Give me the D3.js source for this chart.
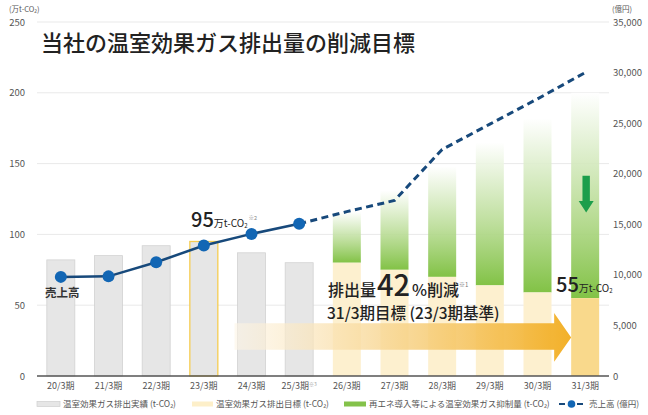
<!DOCTYPE html>
<html>
<head>
<meta charset="utf-8">
<script src="https://cdn.jsdelivr.net/npm/d3@7"></script>
<style>
  html, body { margin: 0; padding: 0; background: #fff; }
  svg { display: block; font-family: "Noto Sans CJK JP", "Noto Sans", sans-serif; }
</style>
</head>
<body>
<svg id="chart" width="648" height="415"></svg>
<script>
// data
const categories = ["20/3期", "21/3期", "22/3期", "23/3期", "24/3期", "25/3期",
                    "26/3期", "27/3期", "28/3期", "29/3期", "30/3期", "31/3期"];
const actual = [82, 85, 92, 95, 87, 80];              // 実績 (万t-CO2), 20/3〜25/3
const target = [80, 75, 70, 64, 59, 55];              // 目標 (万t-CO2), 26/3〜31/3
const withoutMeasures = [116, 131, 148, 165, 182, 200]; // 目標 + 抑制量の上端
const sales = [9800, 9850, 11250, 12900, 14050, 15050,
               16250, 17350, 22400, 24900, 27400, 30000]; // 売上高 (億円)
const leftTicks = [0, 50, 100, 150, 200, 250];
const rightTicks = [0, 5000, 10000, 15000, 20000, 25000, 30000, 35000];

const svg = d3.select("#chart");
const plot = { left: 37, right: 609, top: 22, bottom: 376 };
const barW = 28;

const x = d3.scalePoint().domain(categories).range([plot.left, plot.right]).padding(0.5);
const yL = d3.scaleLinear().domain([0, 250]).range([plot.bottom, plot.top]);
const yR = d3.scaleLinear().domain([0, 35000]).range([plot.bottom, plot.top]);

const defs = svg.append("defs");

// green gradient for the reduction part
const gg = defs.append("linearGradient")
    .attr("id", "green-grad")
    .attr("x1", 0).attr("y1", 1).attr("x2", 0).attr("y2", 0);
gg.append("stop").attr("offset", "0%").attr("stop-color", "#82c246").attr("stop-opacity", 1);
gg.append("stop").attr("offset", "45%").attr("stop-color", "#b9dc95").attr("stop-opacity", 0.9);
gg.append("stop").attr("offset", "100%").attr("stop-color", "#ffffff").attr("stop-opacity", 0.9);

// orange gradient for the big arrow
const og = defs.append("linearGradient")
    .attr("id", "arrow-grad")
    .attr("x1", 0).attr("y1", 0).attr("x2", 1).attr("y2", 0);
og.append("stop").attr("offset", "0%").attr("stop-color", "#fdf5e6").attr("stop-opacity", 0.6);
og.append("stop").attr("offset", "45%").attr("stop-color", "#f8d794").attr("stop-opacity", 0.85);
og.append("stop").attr("offset", "100%").attr("stop-color", "#f2ae22").attr("stop-opacity", 0.97);

// grid
svg.append("g")
    .selectAll("line")
    .data(leftTicks.filter(d => d > 0))
    .join("line")
    .attr("x1", plot.left).attr("x2", plot.right)
    .attr("y1", d => yL(d)).attr("y2", d => yL(d))
    .attr("stroke", "#e9e9e9")
    .attr("stroke-width", 1);

// left axis labels
svg.append("g")
    .selectAll("text")
    .data(leftTicks)
    .join("text")
    .attr("x", 25)
    .attr("y", d => yL(d) + 3.5)
    .attr("text-anchor", "end")
    .attr("font-size", 9.5)
    .attr("fill", "#555")
    .text(d => d);

// right axis labels
svg.append("g")
    .selectAll("text")
    .data(rightTicks)
    .join("text")
    .attr("x", 613)
    .attr("y", d => yR(d) + 3.5)
    .attr("font-size", 9.5)
    .attr("fill", "#555")
    .text(d => d3.format(",")(d));

// unit labels
svg.append("text").attr("x", 9).attr("y", 12).attr("font-size", 7.5).attr("fill", "#555")
    .text("(万t-CO₂)");
svg.append("text").attr("x", 612).attr("y", 12).attr("font-size", 7.5).attr("fill", "#555")
    .text("(億円)");

// actual bars
const actualCats = categories.slice(0, actual.length);
svg.append("g")
    .selectAll("rect")
    .data(actual)
    .join("rect")
    .attr("x", (d, i) => x(actualCats[i]) - barW / 2)
    .attr("y", d => yL(d))
    .attr("width", barW)
    .attr("height", d => yL(0) - yL(d))
    .attr("fill", "#e6e6e6")
    .attr("stroke", (d, i) => actualCats[i] === "23/3期" ? "#f6cd52" : "#d2d2d2")
    .attr("stroke-width", (d, i) => actualCats[i] === "23/3期" ? 1.3 : 0.8);

// target bars and green reduction parts
const targetCats = categories.slice(actual.length);
svg.append("g")
    .selectAll("rect")
    .data(withoutMeasures)
    .join("rect")
    .attr("x", (d, i) => x(targetCats[i]) - barW / 2)
    .attr("y", d => yL(d))
    .attr("width", barW)
    .attr("height", (d, i) => yL(target[i]) - yL(d))
    .attr("fill", "url(#green-grad)");

svg.append("g")
    .selectAll("rect")
    .data(target)
    .join("rect")
    .attr("x", (d, i) => x(targetCats[i]) - barW / 2)
    .attr("y", d => yL(d))
    .attr("width", barW)
    .attr("height", d => yL(0) - yL(d))
    .attr("fill", (d, i) => i === target.length - 1 ? "#f9d98c" : "#fdf0cf");

// big orange arrow
const ax0 = x("24/3期") - 17, ax1 = x("31/3期") - 14, ah = ax1 - 17;
const by0 = yL(37.2), by1 = yL(18.5), hy0 = yL(44.5), hy1 = yL(10);
svg.append("path")
    .attr("d", `M${ax0},${by0} L${ah},${by0} L${ah},${hy0} L${ax1},${(hy0 + hy1) / 2} L${ah},${hy1} L${ah},${by1} L${ax0},${by1} Z`)
    .attr("fill", "url(#arrow-grad)");

// baseline
svg.append("line")
    .attr("x1", plot.left).attr("x2", plot.right)
    .attr("y1", yL(0)).attr("y2", yL(0))
    .attr("stroke", "#555").attr("stroke-width", 1.5);

// x labels
const xl = svg.append("g")
    .selectAll("text")
    .data(categories)
    .join("text")
    .attr("x", d => x(d))
    .attr("y", 389)
    .attr("text-anchor", "middle")
    .attr("font-size", 9)
    .attr("fill", "#555")
    .text(d => d);
xl.filter(d => d === "25/3期")
    .append("tspan")
    .attr("font-size", 5)
    .attr("dy", -3.5)
    .attr("fill", "#999")
    .text("※3");

// sales line
const line = d3.line().x((d, i) => x(categories[i])).y(d => yR(d));
const solidCount = actual.length;
const salesSolid = sales.slice(0, solidCount);
const salesDash = sales.slice(solidCount - 1);

svg.append("path")
    .attr("d", d3.line().x((d, i) => x(categories[i + solidCount - 1])).y(d => yR(d))(salesDash))
    .attr("fill", "none")
    .attr("stroke", "#17497b")
    .attr("stroke-width", 3)
    .attr("stroke-dasharray", "7,4.5");

svg.append("path")
    .attr("d", line(salesSolid))
    .attr("fill", "none")
    .attr("stroke", "#17497b")
    .attr("stroke-width", 2.5);

svg.append("g")
    .selectAll("circle")
    .data(salesSolid)
    .join("circle")
    .attr("cx", (d, i) => x(categories[i]))
    .attr("cy", d => yR(d))
    .attr("r", 6)
    .attr("fill", "#1266b4");

// green down arrow in 31/3
const gx = x("31/3期") + 1;
svg.append("path")
    .attr("d", `M${gx - 3.7},${yL(141.5)} L${gx + 3.7},${yL(141.5)} L${gx + 3.7},${yL(123.5)} L${gx + 7.5},${yL(123.5)} L${gx},${yL(115.5)} L${gx - 7.5},${yL(123.5)} L${gx - 3.7},${yL(123.5)} Z`)
    .attr("fill", "#1c9e4b");

// title
svg.append("text")
    .attr("x", 41).attr("y", 51)
    .attr("font-size", 22)
    .attr("font-weight", 500)
    .attr("fill", "#222")
    .text("当社の温室効果ガス排出量の削減目標");

// 売上高 label
svg.append("text")
    .attr("x", 45).attr("y", 297)
    .attr("font-size", 11.5)
    .attr("font-weight", 700)
    .attr("fill", "#333")
    .text("売上高");

// value labels
function co2Label(xp, yp, num, note) {
    const t = svg.append("text").attr("x", xp).attr("y", yp).attr("fill", "#222");
    t.append("tspan").attr("font-size", 20).attr("font-weight", 500).text(num);
    t.append("tspan").attr("font-size", 10).text("万t-CO");
    t.append("tspan").attr("font-size", 6).attr("dy", 1).text("2");
    if (note) {
        t.append("tspan").attr("font-size", 5.5).attr("dy", -8).attr("fill", "#888").attr("dx", 1).text(note);
    }
}
co2Label(191, 227, "95", "※2");
co2Label(556, 292, "55", null);

// reduction annotation
const ann = svg.append("text").attr("x", 328).attr("y", 296).attr("fill", "#222").attr("font-weight", 500);
ann.append("tspan").attr("font-size", 16).text("排出量");
ann.append("tspan").attr("font-size", 29).attr("dx", 1).text("42");
ann.append("tspan").attr("font-size", 16).attr("dx", 2).text("%削減");
ann.append("tspan").attr("font-size", 6).attr("dy", -9).attr("fill", "#777").attr("font-weight", 400).text("※1");

svg.append("text")
    .attr("x", 327).attr("y", 318.5)
    .attr("font-size", 15.5)
    .attr("font-weight", 500)
    .attr("fill", "#222")
    .text("31/3期目標 (23/3期基準)");

// legend
const legend = svg.append("g").attr("font-size", 8.5).attr("fill", "#555");
legend.append("rect").attr("x", 37).attr("y", 401.5).attr("width", 23).attr("height", 5)
    .attr("fill", "#e6e6e6").attr("stroke", "#cfcfcf").attr("stroke-width", 0.7);
legend.append("text").attr("x", 63).attr("y", 407).text("温室効果ガス排出実績 (t-CO₂)");
legend.append("rect").attr("x", 192).attr("y", 401.5).attr("width", 21).attr("height", 5)
    .attr("fill", "#fdefc9");
legend.append("text").attr("x", 216).attr("y", 407).text("温室効果ガス排出目標 (t-CO₂)");
legend.append("rect").attr("x", 344).attr("y", 401.5).attr("width", 22).attr("height", 5)
    .attr("fill", "#84c24a");
legend.append("text").attr("x", 369).attr("y", 407).text("再エネ導入等による温室効果ガス抑制量 (t-CO₂)");
legend.append("line").attr("x1", 559).attr("x2", 584).attr("y1", 404).attr("y2", 404)
    .attr("stroke", "#17497b").attr("stroke-width", 2).attr("stroke-dasharray", "6,3");
legend.append("circle").attr("cx", 571.5).attr("cy", 404).attr("r", 3.8).attr("fill", "#1266b4");
legend.append("text").attr("x", 589).attr("y", 407).text("売上高 (億円)");
</script>
</body>
</html>
